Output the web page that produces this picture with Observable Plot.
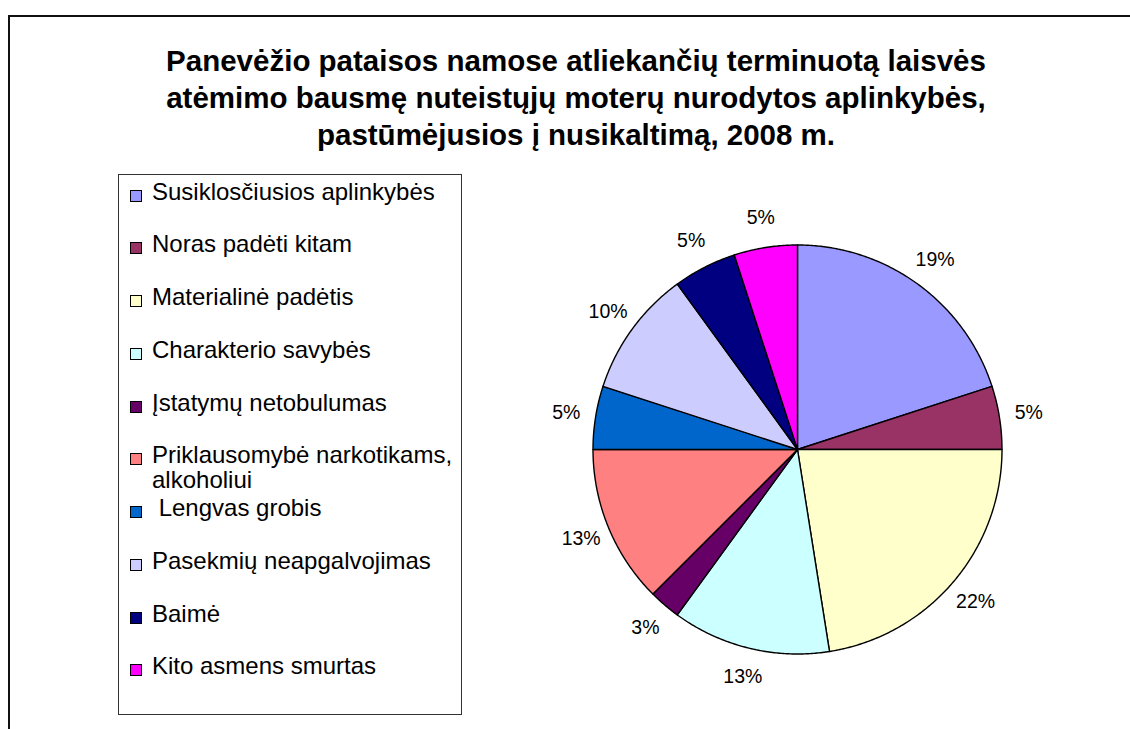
<!DOCTYPE html>
<html>
<head>
<meta charset="utf-8">
<script src="https://cdn.jsdelivr.net/npm/d3@7"></script>
<script src="https://cdn.jsdelivr.net/npm/@observablehq/plot@0.6"></script>
<style>
  html, body { margin: 0; padding: 0; background: #fff; width: 1130px; height: 729px; overflow: hidden; }
  body { font-family: "Liberation Sans", Arial, sans-serif; position: relative; }
  #frame { position: absolute; left: 8px; top: 15px; width: 1200px; height: 800px; border: 2px solid #111; box-sizing: border-box; }
  #title { position: absolute; left: 0; top: 42px; width: 1152px; text-align: center; font-weight: bold; font-size: 29.5px; line-height: 37px; color: #000; }
  #legend { position: absolute; left: 118px; top: 174px; width: 344px; height: 541px; border: 1px solid #333; box-sizing: border-box; }
  .item { position: absolute; left: 0; width: 340px; font-size: 24px; line-height: 25px; color: #000; }
  .sw { position: absolute; left: 11px; top: 11px; width: 12px; height: 12px; border: 1px solid #000; box-sizing: border-box; }
  .lab { position: absolute; left: 33px; width: 305px; white-space: pre-wrap; }
  #pie { position: absolute; left: 557px; top: 209px; }
</style>
</head>
<body>
<div id="frame"></div>
<div id="title">Panevėžio pataisos namose atliekančių terminuotą laisvės<br>atėmimo bausmę nuteistųjų moterų nurodytos aplinkybės,<br>pastūmėjusios į nusikaltimą, 2008 m.</div>
<div id="legend"></div>
<div id="pie"></div>
<script>
// Categories (legend order = slice order, clockwise from 12 o'clock)
const categories = [
  "Susiklosčiusios aplinkybės",
  "Noras padėti kitam",
  "Materialinė padėtis",
  "Charakterio savybės",
  "Įstatymų netobulumas",
  "Priklausomybė narkotikams, alkoholiui",
  " Lengvas grobis",
  "Pasekmių neapgalvojimas",
  "Baimė",
  "Kito asmens smurtas"
];
// Slice shares (percent of the pie)
const shares = [20, 5, 22.5, 12.5, 2.5, 12.5, 5, 10, 5, 5];
// Data labels as printed on the chart
const labels = ["19%", "5%", "22%", "13%", "3%", "13%", "5%", "10%", "5%", "5%"];
// Excel 2003 default palette
const colors = ["#9999FF", "#993366", "#FFFFCC", "#CCFFFF", "#660066", "#FF8080", "#0066CC", "#CCCCFF", "#000080", "#FF00FF"];

// Legend (HTML)
const legend = document.getElementById("legend");
categories.forEach((c, i) => {
  const it = document.createElement("div");
  it.className = "item";
  it.style.top = (3.5 + 52.75 * i) + "px";
  const sw = document.createElement("div");
  sw.className = "sw";
  sw.style.background = colors[i];
  const lb = document.createElement("div");
  lb.className = "lab";
  lb.textContent = c;
  it.appendChild(sw);
  it.appendChild(lb);
  legend.appendChild(it);
});

// Pie geometry from the data via d3.pie
const arcs = d3.pie().sort(null).value(d => d)(shares);
const pts = [];
arcs.forEach((a, i) => {
  const cat = categories[i];
  pts.push({cat, x: 0, y: 0});
  const n = Math.max(2, Math.ceil((a.endAngle - a.startAngle) / (Math.PI / 360)));
  for (let k = 0; k <= n; k++) {
    const t = a.startAngle + (a.endAngle - a.startAngle) * k / n;
    pts.push({cat, x: Math.sin(t), y: Math.cos(t)});
  }
  pts.push({cat, x: 0, y: 0});
});
const labelR = 1.145;
const labelData = arcs.map((a, i) => {
  const m = (a.startAngle + a.endAngle) / 2;
  return {x: labelR * Math.sin(m), y: labelR * Math.cos(m), text: labels[i]};
});

const size = 480, R = 204.5, k = (size / 2) / R;
const chart = Plot.plot({
  width: size,
  height: size,
  margin: 0,
  style: {background: "transparent", overflow: "visible"},
  x: {domain: [-k, k], axis: null},
  y: {domain: [-k, k], axis: null},
  color: {type: "ordinal", domain: categories, range: colors, legend: false},
  marks: [
    Plot.line(pts, {x: "x", y: "y", z: "cat", fill: "cat", stroke: "#000", strokeWidth: 1.4, strokeLinejoin: "round"}),
    Plot.text(labelData, {x: "x", y: "y", text: "text", fontSize: 19.5, fill: "#000", fontFamily: "Liberation Sans, Arial, sans-serif"})
  ]
});
document.getElementById("pie").appendChild(chart);
</script>
</body>
</html>
